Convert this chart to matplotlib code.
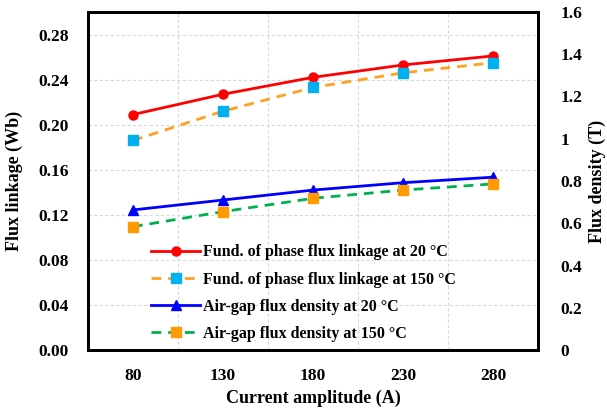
import matplotlib
matplotlib.use("Agg")
import matplotlib.pyplot as plt

current = ["80", "130", "180", "230", "280"]
psi_20 = [0.209, 0.227, 0.242, 0.253, 0.261]
psi_150 = [0.186, 0.212, 0.233, 0.246, 0.255]
b_20 = [0.663, 0.710, 0.757, 0.792, 0.818]
b_150 = [0.584, 0.655, 0.718, 0.757, 0.786]

plt.rcParams["font.family"] = "Liberation Serif"
plt.rcParams["font.weight"] = "bold"
plt.rcParams["font.size"] = 12

fig = plt.figure(figsize=(6.07, 4.13), dpi=100)
ax = fig.add_axes([88 / 607, 1 - 350 / 413, 450 / 607, 338 / 413])
ax2 = ax.twinx()

x = range(len(current))
l1, = ax.plot(x, psi_20, color="#ff0000", lw=2, marker="o", ms=6.5, label="Fund. of phase flux linkage at 20 °C")
l2, = ax.plot(x, psi_150, color="#ffa020", lw=2, ls=(0, (3.5, 2.5)), marker="s", ms=6.5,
              mfc="#00b0f0", mec="#00b0f0", label="Fund. of phase flux linkage at 150 °C")
l3, = ax2.plot(x, b_20, color="#0000ff", lw=2, marker="^", ms=6.5, label="Air-gap flux density at 20 °C")
l4, = ax2.plot(x, b_150, color="#00b050", lw=2, ls=(0, (3.5, 2.5)), marker="s", ms=6.5,
               mfc="#ff9a00", mec="#ff9a00", label="Air-gap flux density at 150 °C")

ax.set_xlim(-0.5, 4.5)
ax.set_xticks(list(x))
ax.set_xticklabels(current)
ax.set_ylim(0, 0.30)
ax.set_yticks([0.00, 0.04, 0.08, 0.12, 0.16, 0.20, 0.24, 0.28])
ax.set_yticklabels(["%.2f" % v for v in ax.get_yticks()])
ax2.set_ylim(0, 1.6)
ax2.set_yticks([0, 0.2, 0.4, 0.6, 0.8, 1.0, 1.2, 1.4, 1.6])
ax2.set_yticklabels(["0", "0.2", "0.4", "0.6", "0.8", "1", "1.2", "1.4", "1.6"])

# grid: horizontal at left ticks, vertical between categories
for v in [0.04, 0.08, 0.12, 0.16, 0.20, 0.24, 0.28]:
    ax.axhline(v, color="#d9d9d9", lw=0.8, ls=(0, (3, 2)), zorder=0)
for v in [0.5, 1.5, 2.5, 3.5]:
    ax.axvline(v, color="#d9d9d9", lw=0.8, ls=(0, (3, 2)), zorder=0)

for a in (ax, ax2):
    a.tick_params(length=0, labelsize=12.5)
    for s in a.spines.values():
        s.set_linewidth(2)
ax.tick_params(axis="y", pad=14)
ax.tick_params(axis="x", pad=13)
ax2.tick_params(axis="y", pad=16)

ax.set_xlabel("Current amplitude (A)", fontsize=13, fontweight="bold", labelpad=4)
ax.set_ylabel("Flux linkage (Wb)", fontsize=13, fontweight="bold", labelpad=11)
ax2.set_ylabel("Flux density (T)", fontsize=13, fontweight="bold", rotation=90, labelpad=5)

ax2.legend(handles=[l1, l2, l3, l4], loc="upper left", bbox_to_anchor=(0.108, 0.355),
           frameon=False, handlelength=3.1, handletextpad=0.15, labelspacing=0.7,
           prop={"family": "Liberation Serif", "weight": "bold", "size": 11.5})

fig.savefig("out.png", dpi=100)
